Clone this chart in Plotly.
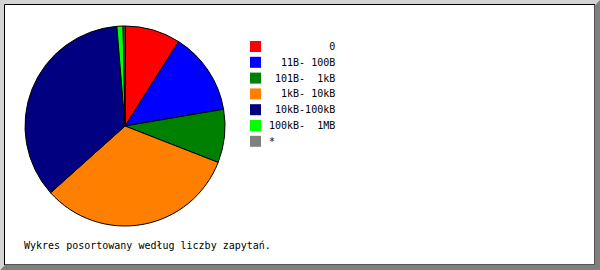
import plotly.graph_objects as go

# ---- data ----
categories = ["0", "11B- 100B", "101B-  1kB", "1kB- 10kB", "10kB-100kB", "100kB-  1MB", "*"]
legend_labels = ["          0", "  11B- 100B", " 101B-  1kB", "  1kB- 10kB", " 10kB-100kB", "100kB-  1MB", "*"]
shares = [9.0, 13.3, 8.6, 32.4, 35.3, 1.0, 0.3]
colors = ["#ff0000", "#0000ff", "#008000", "#ff8000", "#000080", "#00ff00", "#808080"]
caption = "Wykres posortowany według liczby zapytań."

W, H = 600, 270
FONT = "DejaVu Sans Mono"


def px(x):
    return x / W


def py(y):
    return 1 - y / H


fig = go.Figure()
fig.add_trace(go.Pie(
    labels=categories,
    values=shares,
    marker=dict(colors=colors, line=dict(color="black", width=1)),
    sort=False,
    direction="clockwise",
    rotation=0,
    textinfo="none",
    hoverinfo="label+percent",
    showlegend=False,
    domain=dict(x=[px(25), px(225)], y=[py(226), py(26)]),
))

shapes = []
# bevelled frame
shapes.append(dict(type="path", xref="paper", yref="paper",
                   path=f"M 0 1 L 1 1 L {px(595)} {py(5)} L {px(5)} {py(5)} L {px(5)} {py(265)} L 0 0 Z",
                   fillcolor="#d4d4d4", line=dict(width=0), layer="above"))
shapes.append(dict(type="path", xref="paper", yref="paper",
                   path=f"M 1 1 L 1 0 L 0 0 L {px(5)} {py(265)} L {px(595)} {py(265)} L {px(595)} {py(5)} Z",
                   fillcolor="#808080", line=dict(width=0), layer="above"))
shapes.append(dict(type="line", xref="paper", yref="paper",
                   x0=px(4.5), x1=px(595), y0=py(4.5), y1=py(4.5),
                   line=dict(color="black", width=1), layer="above"))
shapes.append(dict(type="line", xref="paper", yref="paper",
                   x0=px(4.5), x1=px(4.5), y0=py(4.5), y1=py(265),
                   line=dict(color="black", width=1), layer="above"))
shapes.append(dict(type="line", xref="paper", yref="paper",
                   x0=px(594.5), x1=px(594.5), y0=py(5), y1=py(265),
                   line=dict(color="#555555", width=1), layer="above"))
shapes.append(dict(type="line", xref="paper", yref="paper",
                   x0=px(5), x1=px(595), y0=py(264.5), y1=py(264.5),
                   line=dict(color="#555555", width=1), layer="above"))

annotations = []
# legend
step = 15.8
for i, (lab, col) in enumerate(zip(legend_labels, colors)):
    top = 41 + i * step
    shapes.append(dict(type="rect", xref="paper", yref="paper",
                       x0=px(250), x1=px(261), y0=py(top), y1=py(top + 11),
                       fillcolor=col, line=dict(width=0)))
    annotations.append(dict(xref="paper", yref="paper", x=px(267), y=py(top + 5.5),
                            xanchor="left", yanchor="middle", showarrow=False,
                            text=lab.replace(" ", "\u00a0"),
                            font=dict(family=FONT, size=10, color="black")))

annotations.append(dict(xref="paper", yref="paper", x=px(22), y=py(245),
                        xanchor="left", yanchor="middle", showarrow=False,
                        text=caption, font=dict(family=FONT, size=10, color="black")))

fig.update_layout(
    width=W, height=H,
    margin=dict(l=0, r=0, t=0, b=0),
    paper_bgcolor="white", plot_bgcolor="white",
    shapes=shapes, annotations=annotations,
    showlegend=False,
)

fig.write_html("out.html")
